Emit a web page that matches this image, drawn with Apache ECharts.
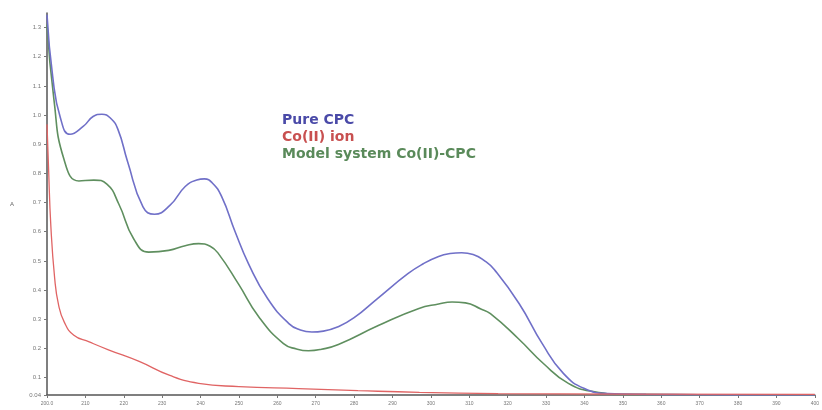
<!DOCTYPE html>
<html>
<head>
<meta charset="utf-8">
<script src="https://cdn.jsdelivr.net/npm/echarts@6/dist/echarts.min.js"></script>
<style>html,body{margin:0;padding:0;background:#fff}#c{width:822px;height:410px}</style>
</head>
<body>
<div id="c"></div>
<script>
var seriesNames = ['Pure CPC', 'Co(II) ion', 'Model system Co(II)-CPC'];

var pureWl = [200, 201.5, 203.5, 206, 209.5, 212, 214.3, 216.5, 218.5, 221, 225, 228, 232, 236, 239, 241, 243, 245.5, 249, 252.5, 257.5, 263, 266, 269, 272, 276, 280, 286, 294, 298, 302, 305, 308, 311, 314, 316.5, 323, 329, 334.5, 340, 346, 356, 370, 385, 400];
var pureA  = [1.344, 1.13, 0.99, 0.934, 0.962, 0.995, 1.003, 0.99, 0.95, 0.84, 0.685, 0.66, 0.69, 0.755, 0.777, 0.781, 0.768, 0.72, 0.6, 0.49, 0.37, 0.285, 0.263, 0.256, 0.259, 0.275, 0.305, 0.37, 0.456, 0.49, 0.515, 0.525, 0.528, 0.522, 0.5, 0.47, 0.353, 0.216, 0.114, 0.062, 0.045, 0.042, 0.041, 0.04, 0.04];

var coWl = [200, 200.4, 201, 202, 203, 204.5, 207, 211, 216, 224, 232, 239.5, 250, 265.5, 281, 297, 317.5, 350, 400];
var coA  = [0.968, 0.82, 0.62, 0.44, 0.35, 0.29, 0.245, 0.222, 0.195, 0.155, 0.107, 0.08, 0.069, 0.062, 0.055, 0.049, 0.045, 0.043, 0.042];

var modelWl = [200, 201.8, 204.4, 208.3, 212.2, 215.6, 218.7, 222.6, 226.5, 231.7, 236, 239.5, 242.5, 244.7, 249.9, 255.1, 261.6, 265, 268.1, 271.5, 275.9, 286.3, 296.7, 302, 305.5, 309, 313, 315.5, 322.8, 329.3, 335.8, 342.3, 351.4, 370, 400];
var modelA  = [1.31, 1.054, 0.849, 0.774, 0.777, 0.763, 0.695, 0.575, 0.53, 0.536, 0.552, 0.559, 0.55, 0.524, 0.42, 0.309, 0.216, 0.198, 0.192, 0.197, 0.213, 0.278, 0.336, 0.352, 0.359, 0.356, 0.335, 0.319, 0.233, 0.148, 0.08, 0.052, 0.042, 0.041, 0.04];

var yTicks = [0.04, 0.1, 0.2, 0.3, 0.4, 0.5, 0.6, 0.7, 0.8, 0.9, 1.0, 1.1, 1.2, 1.3];
var colors = ['#7070c8', '#e06464', '#5f8f5f'];

function pairs(xs, ys) { return xs.map(function (x, i) { return [x, ys[i]]; }); }

var chart = echarts.init(document.getElementById('c'));
chart.setOption({
  animation: false,
  backgroundColor: '#fff',
  textStyle: { fontFamily: 'Liberation Sans, Arial, sans-serif' },
  grid: { left: 47, right: 5, top: 13, bottom: 15 },
  legend: {
    orient: 'vertical', left: 272, top: 108, itemWidth: 0, itemHeight: 0, itemGap: 3,
    icon: 'none', selectedMode: false,
    data: [
      { name: seriesNames[0], textStyle: { color: '#4a4aa8' } },
      { name: seriesNames[1], textStyle: { color: '#c85050' } },
      { name: seriesNames[2], textStyle: { color: '#5a8a5a' } }
    ],
    textStyle: { fontSize: 14, fontWeight: 'bold', fontFamily: 'DejaVu Sans, sans-serif' }
  },
  xAxis: {
    type: 'value', min: 200, max: 400, interval: 10,
    axisLine: { lineStyle: { color: '#555', width: 1.5 } },
    axisTick: { length: 3, lineStyle: { color: '#777' } },
    splitLine: { show: false },
    axisLabel: { fontSize: 5, color: '#777', margin: 6,
      formatter: function (v) { return v === 200 ? '200.0' : String(v); } }
  },
  yAxis: {
    type: 'value', min: 0.04, max: 1.35,
    name: 'A', nameLocation: 'middle', nameGap: 33, nameRotate: 0,
    nameTextStyle: { fontSize: 6, color: '#666' },
    axisLine: { show: true, lineStyle: { color: '#555', width: 1.5 } },
    axisTick: { show: true, length: 3, customValues: yTicks, lineStyle: { color: '#777' } },
    splitLine: { show: false },
    axisLabel: { fontSize: 6, color: '#777', margin: 6, customValues: yTicks,
      formatter: function (v) { return v === 0.04 ? '0.04' : v.toFixed(1); } }
  },
  series: [
    { name: seriesNames[0], type: 'line', data: pairs(pureWl, pureA), showSymbol: false,
      smooth: 0.5, lineStyle: { color: colors[0], width: 1.6 }, itemStyle: { color: colors[0] }, z: 3 },
    { name: seriesNames[2], type: 'line', data: pairs(modelWl, modelA), showSymbol: false,
      smooth: 0.5, lineStyle: { color: colors[2], width: 1.6 }, itemStyle: { color: colors[2] }, z: 2 },
    { name: seriesNames[1], type: 'line', data: pairs(coWl, coA), showSymbol: false,
      smooth: 0.5, lineStyle: { color: colors[1], width: 1.3 }, itemStyle: { color: colors[1] }, z: 4 }
  ]
});
</script>
</body>
</html>
